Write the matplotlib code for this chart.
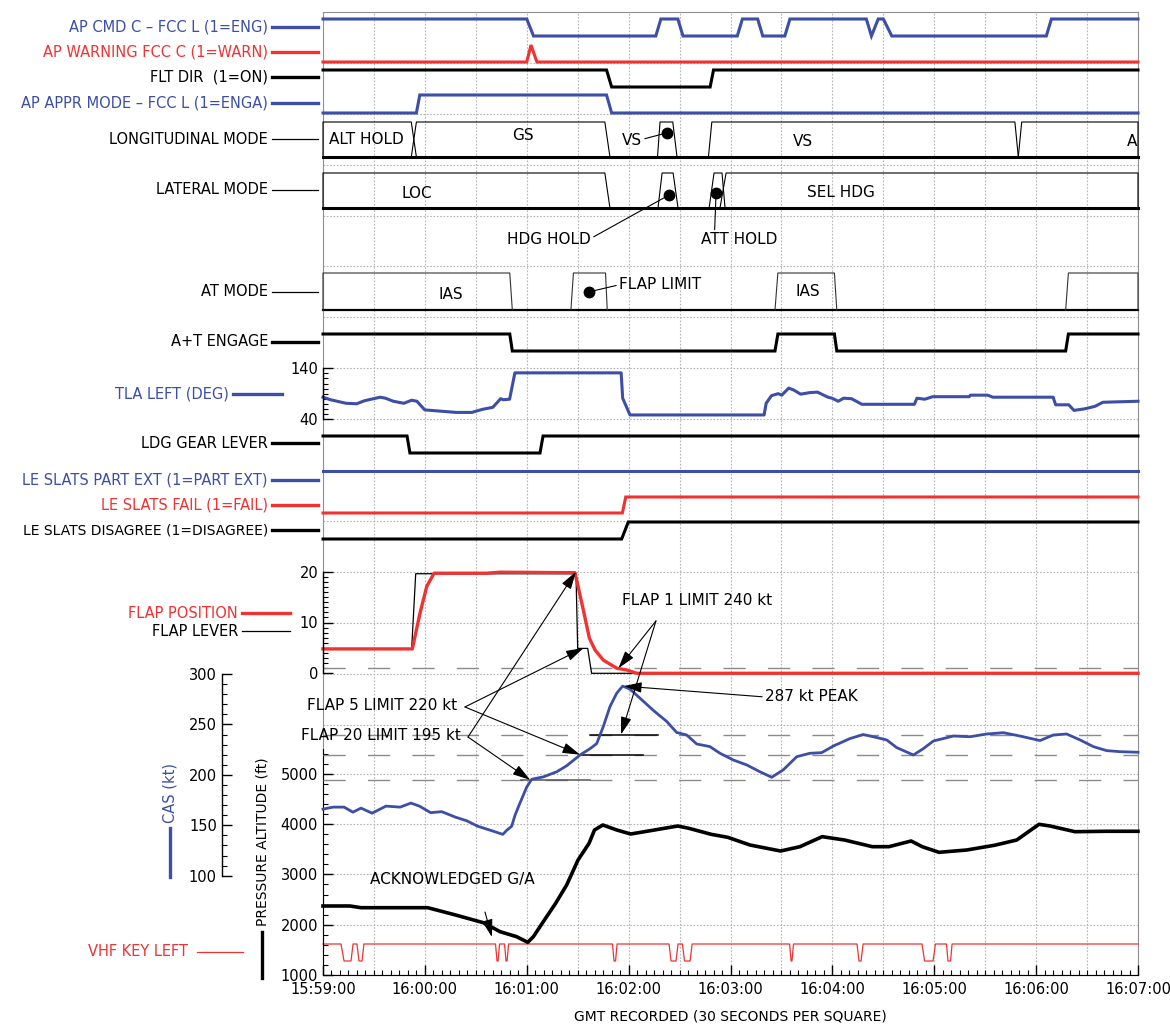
import matplotlib
matplotlib.use("Agg")
import matplotlib.pyplot as plt
from matplotlib.lines import Line2D
from matplotlib.ticker import MultipleLocator

# time is seconds after 15:59:00 GMT
time_ticks = [0, 60, 120, 180, 240, 300, 360, 420, 480]
time_labels = ["15:59:00", "16:00:00", "16:01:00", "16:02:00", "16:03:00",
               "16:04:00", "16:05:00", "16:06:00", "16:07:00"]

# discrete parameters (1 / 0)
ap_cmd_t = [0, 120, 124, 196, 199, 209, 212, 244, 247, 256, 259, 272, 275,
            320, 323, 327, 330, 335, 426, 429, 480]
ap_cmd_v = [1, 1, 0, 0, 1, 1, 0, 0, 1, 1, 0, 0, 1, 1, 0, 1, 1, 0, 0, 1, 1]
ap_warn_t = [0, 120, 122.5, 126, 480]
ap_warn_v = [0, 0, 1, 0, 0]
flt_dir_t = [0, 167, 170, 228, 230, 480]
flt_dir_v = [1, 1, 0, 0, 1, 1]
appr_t = [0, 55, 57, 167, 170, 480]
appr_v = [0, 0, 1, 1, 0, 0]
at_eng_t = [0, 110, 111.5, 266.2, 267.9, 301.2, 302.6, 437.4, 439, 480]
at_eng_v = [1, 1, 0, 0, 1, 1, 0, 0, 1, 1]
gear_t = [0, 49.5, 51.2, 127.8, 129.6, 480]
gear_v = [1, 1, 0, 0, 1, 1]
slat_part_t = [0, 480]
slat_part_v = [1, 1]
slat_fail_t = [0, 176.3, 178.3, 480]
slat_fail_v = [0, 0, 1, 1]
slat_dis_t = [0, 175.9, 179.8, 480]
slat_dis_v = [0, 0, 1, 1]

# mode boxes: (start rise, top start, top end, end fall), seconds
lon_modes = [(0, 0, 52, 55), (52, 55, 166, 169), (197, 198.5, 206, 208.5),
             (227, 229, 407.5, 409.5), (409.5, 411.5, 480, 480)]
lat_modes = [(0, 0, 166, 169), (197.3, 199.7, 206.2, 209.1),
             (227.4, 230.3, 235, 236.8), (233.8, 237.4, 480, 480)]
at_modes = [(0, 0, 110, 111.5), (146, 147.5, 166.4, 167.4),
            (266.2, 267.9, 301.2, 302.6), (437.4, 439, 480, 480)]

# TLA left (deg)
tla_t = [0, 4.4, 13.6, 19.8, 24.4, 33.7, 36.8, 41.4, 47.6, 52.2, 55.3, 59.9,
         78.4, 87.7, 93.8, 100, 104.6, 106.2, 109.9, 113, 175.6, 176.5, 180.8,
         259.8, 261, 264.1, 268.1, 270.2, 274.3, 277.3, 281.3, 286.6, 291.2,
         297.4, 299.8, 303.5, 306.6, 311.3, 317.4, 348.3, 349.8, 354.4, 359.1,
         380.6, 381.3, 391.4, 394.5, 430, 431.5, 439.2, 442.3, 448.5, 454.7,
         459.3, 480]
tla_v = [83, 78, 71, 70, 76, 83, 81, 75, 71, 77, 75, 58, 53, 53, 59, 63, 80,
         78, 79, 131, 131, 81, 48, 48, 71, 86, 90, 87, 101, 97, 89, 92, 93, 83,
         81, 75, 81, 80, 69, 69, 81, 79, 84, 84, 87, 87, 83, 83, 68, 68, 57, 60,
         65, 73, 75]
tla_ticks = [40, 140]

# flaps
flap_pos_t = [0, 52.6, 57.1, 61.1, 65.4, 96.4, 104.3, 148.4, 153.3, 156.9,
              160.2, 165.1, 173, 178.9, 184.8, 480]
flap_pos_v = [4.8, 4.8, 11.8, 17.1, 19.7, 19.7, 19.9, 19.8, 12.5, 6.9, 4.6,
              2.6, 1.0, 0.65, 0, 0]
flap_lev_t = [0, 52.2, 54.6, 149, 150, 155.9, 158.2, 480]
flap_lev_v = [4.8, 4.8, 19.6, 19.6, 4.9, 4.9, 0, 0]

# CAS (kt)
cas_t = [0, 5.9, 12.4, 17.6, 22.4, 28.9, 37.1, 45.4, 51.8, 56.8, 63.4, 69.9,
         78.1, 84.6, 91.2, 99.4, 105.9, 108.2, 111.1, 113.1, 116, 120, 122.9,
         129.8, 137.6, 143.5, 151.4, 157.3, 161.2, 165.1, 169, 173, 176.5,
         180.8, 186.7, 194.5, 202.4, 208.3, 214.2, 220.1, 227.9, 233.8, 241.7,
         249.6, 257.4, 264.3, 271.1, 279, 286.8, 293.7, 300.6, 310.4, 318.2,
         326.1, 332, 337.9, 347.7, 353.6, 359.5, 365.4, 371.3, 381.1, 390.9,
         400.7, 410.5, 422.3, 430.1, 438, 445.9, 453.7, 461.6, 469.4, 480]
cas_v = [166, 168, 168, 163, 167, 162, 169, 168, 172, 169, 162.5, 163.5, 158,
         154.5, 149, 144.6, 141, 145, 149, 160, 172, 188, 195.6, 198, 203, 209,
         219.7, 226, 231, 248, 267.6, 281, 288, 285, 276, 264, 253, 242, 239.5,
         230.6, 228, 221.4, 214.7, 209.8, 203, 197.6, 205, 218, 221.4, 222,
         228.6, 236, 240, 237, 234.6, 227, 219.7, 226, 233.6, 236, 238.5,
         237.8, 240.5, 241.8, 238.5, 234, 239.5, 240.5, 234.6, 228, 224, 223,
         222.4]

# pressure altitude (ft)
alt_t = [0, 15.9, 22.4, 61.7, 78.1, 94.4, 104.3, 114, 120.6, 123.9, 130.4, 137,
         143.5, 150.2, 156.7, 159.9, 164.8, 173, 181.2, 189.3, 209, 215.5,
         228.6, 238.4, 251.5, 269.5, 280.9, 294, 307.1, 323.5, 333.3, 346.4,
         352.9, 362.8, 379.1, 395.5, 408.6, 421.7, 428.2, 442.9, 460.9, 480]
alt_v = [2372, 2372, 2338, 2338, 2193, 2040, 1861, 1762, 1650, 1762, 2093,
         2425, 2789, 3286, 3618, 3883, 3982, 3883, 3803, 3849, 3962, 3916,
         3797, 3737, 3584, 3465, 3551, 3750, 3684, 3551, 3551, 3664, 3551,
         3439, 3485, 3579, 3684, 3996, 3962, 3849, 3857, 3857]

# VHF key presses: (key down start, key down end, release start, release end)
vhf_keys = [(10.6, 12.4, 16.5, 17.7), (20.0, 21.2, 23.0, 24.1),
            (101.6, 102.5, 103.1, 104.0), (106.9, 107.8, 108.4, 109.3),
            (170.5, 171.4, 172.3, 173.2), (203.8, 205.0, 207.9, 209.1),
            (211.7, 212.9, 216.2, 217.4), (274.8, 275.7, 276.2, 277.1),
            (314.5, 315.7, 316.9, 318.1), (352.8, 354.3, 359.3, 360.7),
            (367.2, 368.1, 369.6, 370.5)]

flap_limit_pos = [1]
cas_limits = [240, 220, 195]
cas_limit_spans = [(157.3, 197.3), (151.4, 188.5), (116.9, 157.1)]

W, H = 1170, 1024
X0, X1 = 323, 1138
BLUE = "#3c4ea5"
RED = "#f03232"
GRID = "#b5b5b5"

plt.rcParams["font.family"] = "DejaVu Sans"
plt.rcParams["font.size"] = 10.5

fig = plt.figure(figsize=(W / 100, H / 100), dpi=100)


def rect(y_top, y_bot, x0=X0, x1=X1):
    return [x0 / W, 1 - y_bot / H, (x1 - x0) / W, (y_bot - y_top) / H]


def band(y_hi, y_lo, lo=0, hi=1):
    ax = fig.add_axes(rect(y_hi, y_lo))
    ax.set_xlim(0, 480)
    ax.set_ylim(lo, hi)
    ax.axis("off")
    return ax


def trace(y_hi, y_lo, t, v, color, lw=2.2):
    ax = band(y_hi, y_lo)
    ax.plot(t, v, color=color, lw=lw, clip_on=False, solid_joinstyle="miter")
    return ax


def side_label(text, y, color, lw, right=268, key=(272, 318), size=10.5):
    fig.text(right / W, 1 - y / H, text, ha="right", va="center",
             color=color, fontsize=size)
    fig.add_artist(Line2D([key[0] / W, key[1] / W], [1 - y / H] * 2,
                          color=color, lw=lw))


def mode_band(y_hi, y_lo, spans, base_lw=2.2, color="k"):
    ax = band(y_hi, y_lo)
    ax.axhline(0, color="k", lw=base_lw, clip_on=False)
    for a, b, c, d in spans:
        ax.plot([a, b, c, d], [0, 1, 1, 0], color=color, lw=0.8, clip_on=False)
    return ax


def left_axis(ax, minor):
    for side in ["top", "right", "bottom"]:
        ax.spines[side].set_visible(False)
    ax.spines["left"].set_linewidth(1.0)
    ax.patch.set_visible(False)
    ax.yaxis.set_minor_locator(MultipleLocator(minor))
    ax.tick_params(axis="y", which="major", direction="in", length=7, width=1)
    ax.tick_params(axis="y", which="minor", direction="in", length=3.5, width=0.8)
    ax.tick_params(axis="x", bottom=False, labelbottom=False)


# background grid: 30 s per square
bg = fig.add_axes(rect(12, 975))
bg.set_xlim(0, 480)
bg.set_ylim(963 / 50.9, 0)
bg.set_xticks(range(0, 481, 30))
bg.set_yticks(range(0, 15))
bg.tick_params(length=0, labelbottom=False, labelleft=False)
bg.grid(True, color=GRID, lw=0.8, ls=(0, (1.5, 1.5)))
for sp in bg.spines.values():
    sp.set_color("#909090")
    sp.set_linewidth(0.8)

# discrete traces
trace(19, 36, ap_cmd_t, ap_cmd_v, BLUE)
trace(45, 62, ap_warn_t, ap_warn_v, RED)
trace(70, 87, flt_dir_t, flt_dir_v, "k")
trace(95, 113, appr_t, appr_v, BLUE)
trace(334, 351, at_eng_t, at_eng_v, "k")
trace(436, 453, gear_t, gear_v, "k")
trace(471, 488, slat_part_t, slat_part_v, BLUE)
trace(497, 513, slat_fail_t, slat_fail_v, RED)
trace(522, 539, slat_dis_t, slat_dis_v, "k")
vhf = band(944, 961)
vhf_line_t, vhf_line_v = [0], [1]
for a, b, c, d in vhf_keys:
    vhf_line_t += [a, b, c, d]
    vhf_line_v += [1, 0, 0, 1]
vhf_line_t.append(480)
vhf_line_v.append(1)
vhf.plot(vhf_line_t, vhf_line_v, color=RED, lw=0.9, clip_on=False)

# mode bands
MODE_FS = 11
lon = mode_band(122, 157, lon_modes)
lon.text(25.3, 0.51, "ALT HOLD", ha="center", va="center", fontsize=MODE_FS)
lon.text(117.8, 0.6, "GS", ha="center", va="center", fontsize=MODE_FS)
lon.text(282.7, 0.43, "VS", ha="center", va="center", fontsize=MODE_FS)
lon.text(473.6, 0.43, "A", ha="left", va="center", fontsize=MODE_FS)
lon.plot([202.6], [0.69], "o", color="k", ms=7.5, clip_on=False)
lon.annotate("VS", xy=(202.6, 0.69), xytext=(182, 0.46), ha="center",
             va="center", fontsize=MODE_FS,
             arrowprops=dict(arrowstyle="-", lw=0.8, relpos=(1, 0.6),
                             shrinkA=0, shrinkB=0))

lat = mode_band(173, 208, lat_modes)
lat.text(55.4, 0.4, "LOC", ha="center", va="center", fontsize=MODE_FS)
lat.text(305.1, 0.43, "SEL HDG", ha="center", va="center", fontsize=MODE_FS)
lat.plot([203.8, 231.5], [0.37, 0.43], "o", color="k", ms=7.5, clip_on=False)
lat.annotate("HDG HOLD", xy=(203.8, 0.37), xytext=(133.1, -0.91), ha="center",
             va="center", annotation_clip=False, fontsize=MODE_FS,
             arrowprops=dict(arrowstyle="-", lw=0.8, relpos=(1, 0.6),
                             shrinkA=0, shrinkB=0))
lat.annotate("ATT HOLD", xy=(231.5, 0.43), xytext=(245, -0.91), ha="center",
             va="center", annotation_clip=False, fontsize=MODE_FS,
             arrowprops=dict(arrowstyle="-", lw=0.8, relpos=(0.18, 1),
                             shrinkA=0, shrinkB=0))

atm = mode_band(273, 310, at_modes, base_lw=1.6, color="#333333")
atm.text(75.4, 0.43, "IAS", ha="center", va="center", fontsize=MODE_FS)
atm.text(285.7, 0.49, "IAS", ha="center", va="center", fontsize=MODE_FS)
atm.plot([156.7], [0.49], "o", color="k", ms=7.5, clip_on=False)
atm.annotate("FLAP LIMIT", xy=(156.7, 0.49), xytext=(174.3, 0.68), ha="left",
             va="center", fontsize=MODE_FS,
             arrowprops=dict(arrowstyle="-", lw=0.8, relpos=(0, 0.5),
                             shrinkA=0, shrinkB=0))

# TLA
tla = fig.add_axes(rect(368.3, 419))
tla.set_xlim(0, 480)
tla.set_ylim(40, 140)
tla.set_yticks(tla_ticks)
left_axis(tla, 10)
tla.plot(tla_t, tla_v, color=BLUE, lw=2.2, clip_on=False)

# flap position / lever
flap = fig.add_axes(rect(571.7, 673.3))
flap.set_xlim(0, 480)
flap.set_ylim(0, 20)
flap.set_yticks([0, 10, 20])
left_axis(flap, 1)
for f in flap_limit_pos:
    flap.axhline(f, color="#8a8a8a", lw=1.0, dashes=(16, 16))
flap.plot(flap_lev_t, flap_lev_v, color="k", lw=0.9, clip_on=False)
flap.plot(flap_pos_t, flap_pos_v, color=RED, lw=2.4, clip_on=False)

# pressure altitude
alt = fig.add_axes(rect(748.65, 975))
alt.set_xlim(0, 480)
alt.set_ylim(1000, 5500)
for side in ["top", "right"]:
    alt.spines[side].set_visible(False)
alt.patch.set_visible(False)
alt.yaxis.set_major_locator(MultipleLocator(1000))
alt.yaxis.set_minor_locator(MultipleLocator(200))
alt.set_xticks(time_ticks, time_labels)
alt.xaxis.set_minor_locator(MultipleLocator(5))
alt.tick_params(which="major", direction="in", length=7, width=1)
alt.tick_params(which="minor", direction="in", length=3.5, width=0.8)
alt.tick_params(axis="x", pad=5)
alt.grid(True, axis="y", color=GRID, lw=0.8, ls=(0, (1.5, 1.5)))
alt.set_xlabel("GMT RECORDED (30 SECONDS PER SQUARE)", fontsize=10, labelpad=9)
alt.plot(alt_t, alt_v, color="k", lw=2.6, clip_on=False)

# CAS
cas = fig.add_axes(rect(674, 875.7))
cas.set_xlim(0, 480)
cas.set_ylim(100, 300)
cas.yaxis.set_major_locator(MultipleLocator(50))
left_axis(cas, 10)
cas.spines["left"].set_position(("axes", -(X0 - 221.7) / (X1 - X0)))
for k in cas_limits:
    cas.axhline(k, color="#8a8a8a", lw=1.0, dashes=(16, 16))
for k, (a, b) in zip(cas_limits, cas_limit_spans):
    cas.plot([a, b], [k, k], color="k" if k != 195 else "#555555", lw=1.1)
cas.plot(cas_t, cas_v, color=BLUE, lw=2.0, clip_on=False)

# annotations
ANN_FS = 11
ARROW = dict(arrowstyle="-|>,head_length=0.9,head_width=0.27", mutation_scale=12,
             color="k", lw=0.8, shrinkA=0, shrinkB=0)
cas.text(220.3, 372.4, "FLAP 1 LIMIT 240 kt", ha="center", va="center",
         fontsize=ANN_FS)
cas.annotate("", xy=(174, 1.0), xycoords=flap.transData, xytext=(196.1, 352.6),
             textcoords=cas.transData, arrowprops=ARROW, annotation_clip=False)
cas.annotate("", xy=(175.5, 240), xytext=(196.1, 352.6), arrowprops=ARROW,
             annotation_clip=False)
cas.text(78.9, 268.3, "FLAP 5 LIMIT 220 kt", ha="right", va="center",
         fontsize=ANN_FS)
cas.annotate("", xy=(153.5, 5.0), xycoords=flap.transData, xytext=(83.6, 267.3),
             textcoords=cas.transData, arrowprops=ARROW, annotation_clip=False)
cas.annotate("", xy=(151.4, 220), xytext=(83.6, 267.3), arrowprops=ARROW,
             annotation_clip=False)
cas.text(81.3, 239.5, "FLAP 20 LIMIT 195 kt", ha="right", va="center",
         fontsize=ANN_FS)
cas.annotate("", xy=(149, 20), xycoords=flap.transData, xytext=(85.4, 237.5),
             textcoords=cas.transData, arrowprops=ARROW, annotation_clip=False)
cas.annotate("", xy=(122, 195), xytext=(85.4, 237.5), arrowprops=ARROW,
             annotation_clip=False)
cas.annotate("287 kt PEAK", xy=(177.3, 288), xytext=(260.3, 277.2), ha="left",
             va="center", annotation_clip=False, fontsize=ANN_FS,
             arrowprops=dict(ARROW, relpos=(0, 0.5)))
alt.text(76, 2889, "ACKNOWLEDGED G/A", ha="center", va="center", fontsize=ANN_FS)
alt.annotate("", xy=(99.5, 1755), xytext=(95.4, 2252), arrowprops=ARROW,
             annotation_clip=False)

# left-hand labels
side_label("AP CMD C \u2013 FCC L (1=ENG)", 27, BLUE, 2.4)
side_label("AP WARNING FCC C (1=WARN)", 52, RED, 2.4)
side_label("FLT DIR  (1=ON)", 77, "k", 2.4)
side_label("AP APPR MODE \u2013 FCC L (1=ENGA)", 103, BLUE, 2.4)
side_label("LONGITUDINAL MODE", 139, "k", 0.9)
side_label("LATERAL MODE", 190, "k", 0.9)
side_label("AT MODE", 292, "k", 0.9)
side_label("A+T ENGAGE", 342, "k", 2.4)
side_label("TLA LEFT (DEG)", 394, BLUE, 2.4, right=229, key=(233, 282))
side_label("LDG GEAR LEVER", 443, "k", 2.4)
side_label("LE SLATS PART EXT (1=PART EXT)", 480, BLUE, 2.4)
side_label("LE SLATS FAIL (1=FAIL)", 505, RED, 2.4)
side_label("LE SLATS DISAGREE (1=DISAGREE)", 530, "k", 2.4, size=10)
side_label("FLAP POSITION", 613, RED, 2.4, right=238, key=(242, 290))
side_label("FLAP LEVER", 631, "k", 0.9, right=238, key=(242, 290))
side_label("VHF KEY LEFT", 952, RED, 0.9, right=188, key=(197, 243))

fig.text(170 / W, 1 - 793 / H, "CAS (kt)", rotation=90, ha="center",
         va="center", color=BLUE)
fig.add_artist(Line2D([170 / W] * 2, [1 - 828 / H, 1 - 877 / H], color=BLUE, lw=2.4))
fig.text(262 / W, 1 - 842 / H, "PRESSURE ALTITUDE (ft)", rotation=90,
         ha="center", va="center", fontsize=10)
fig.add_artist(Line2D([262 / W] * 2, [1 - 932 / H, 1 - 978 / H], color="k", lw=2.4))

fig.savefig("out.png", dpi=100)
